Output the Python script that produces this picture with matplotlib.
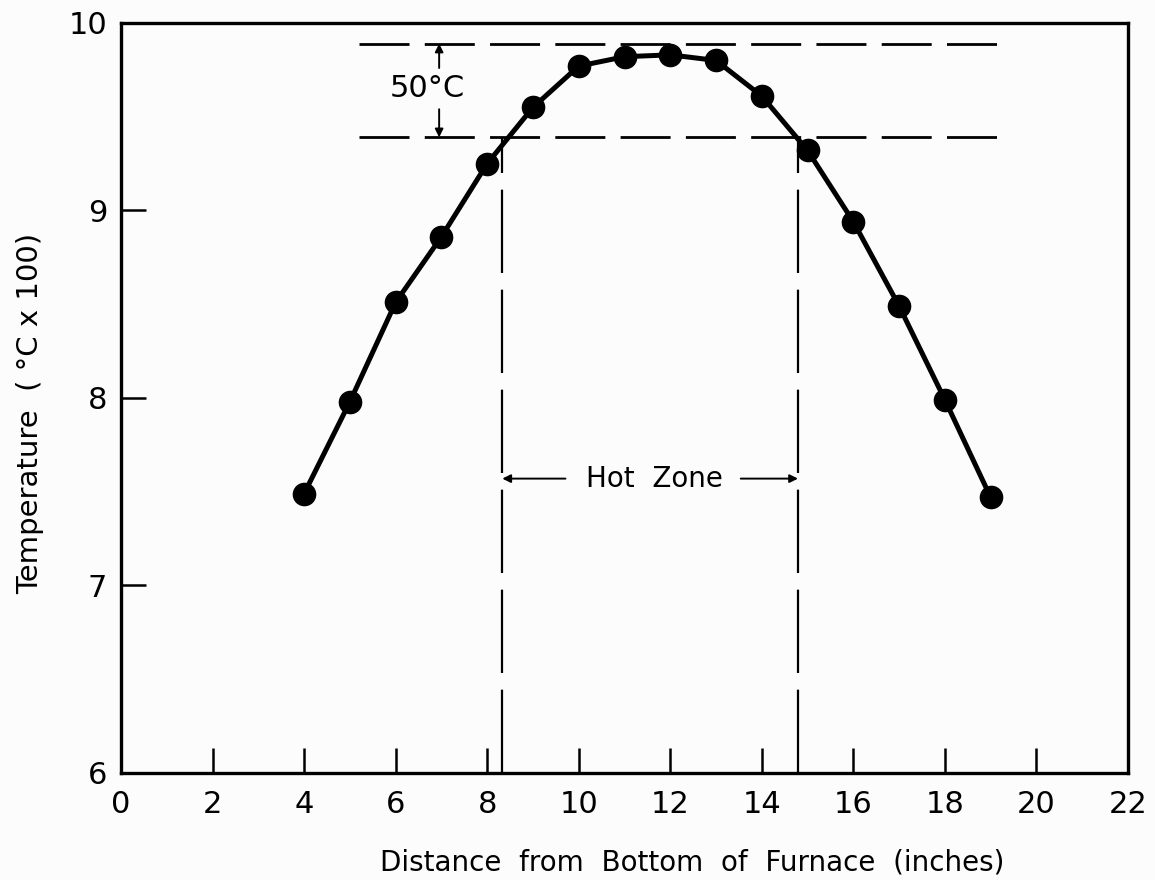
import numpy as np
import matplotlib
matplotlib.use("Agg")
import matplotlib.pyplot as plt

# temperature profile along the furnace
distance = [4, 5, 6, 7, 8, 9, 10, 11, 12, 13, 14, 15, 16, 17, 18, 19]
temperature = [7.49, 7.98, 8.51, 8.86, 9.25, 9.55, 9.77, 9.82, 9.83, 9.80,
               9.61, 9.32, 8.94, 8.49, 7.99, 7.47]

hot_zone = [8.33, 14.79]		# edges of the hot zone (inches)
band = [9.39, 9.89]				# 50 C band (C x 100)
band_x = [5.2, 19.3]

xticks = [0, 2, 4, 6, 8, 10, 12, 14, 16, 18, 20, 22]
yticks = [6, 7, 8, 9, 10]

plt.rcParams['lines.scale_dashes'] = False
plt.rcParams['font.family'] = 'DejaVu Sans'

fig = plt.figure(figsize=(11.55, 8.8), dpi=100, facecolor='#fcfcfc')
ax = fig.add_axes([0.1048, 0.1216, 0.8718, 0.8523])
ax.set_facecolor('#fcfcfc')

# dashed band lines
for yb in band:
	ax.plot(band_x, [yb, yb], color='black', lw=2.0, dashes=(36, 11), dash_capstyle='butt')

# hot zone edges
for xh in hot_zone:
	ax.plot([xh, xh], [6, band[0]], color='black', lw=1.6, dashes=(60, 12), dash_capstyle='butt')

ax.plot(distance, temperature, color='black', lw=3.6, marker='o', markersize=16,
		markerfacecolor='black', markeredgecolor='black', zorder=5)

arrow = dict(arrowstyle='-|>', color='black', lw=1.4, mutation_scale=12, shrinkA=0, shrinkB=0)

# 50 C arrows
xa = 6.95
ax.annotate('', xy=(xa, band[1]), xytext=(xa, 9.76), arrowprops=arrow)
ax.annotate('', xy=(xa, band[0]), xytext=(xa, 9.54), arrowprops=arrow)
ax.text(6.69, 9.65, '50°C', ha='center', va='center', fontsize=22)

# hot zone arrows
yz = 7.57
ax.annotate('', xy=(hot_zone[0], yz), xytext=(9.71, yz), arrowprops=arrow)
ax.annotate('', xy=(hot_zone[1], yz), xytext=(13.54, yz), arrowprops=arrow)
ax.text(11.65, yz, 'Hot  Zone', ha='center', va='center', fontsize=20)

ax.set_xlim(0, 22)
ax.set_ylim(6, 10)
ax.set_xticks(xticks)
ax.set_yticks(yticks)
ax.set_xticklabels([str(t) for t in xticks])
ax.set_yticklabels([str(t) for t in yticks])
ax.tick_params(direction='in', length=18, width=1.8, labelsize=22, pad=10,
			   top=False, right=False)
ax.tick_params(axis='x', pad=12)
for s in ax.spines.values():
	s.set_linewidth(2.4)

ax.set_xlabel('Distance  from  Bottom  of  Furnace  (inches)', fontsize=20)
ax.xaxis.set_label_coords(0.567, -0.101)
ax.set_ylabel('Temperature  ( °C x 100)', fontsize=21)
ax.yaxis.set_label_coords(-0.076, 0.479)

fig.savefig('out.png', dpi=100, facecolor=fig.get_facecolor())
